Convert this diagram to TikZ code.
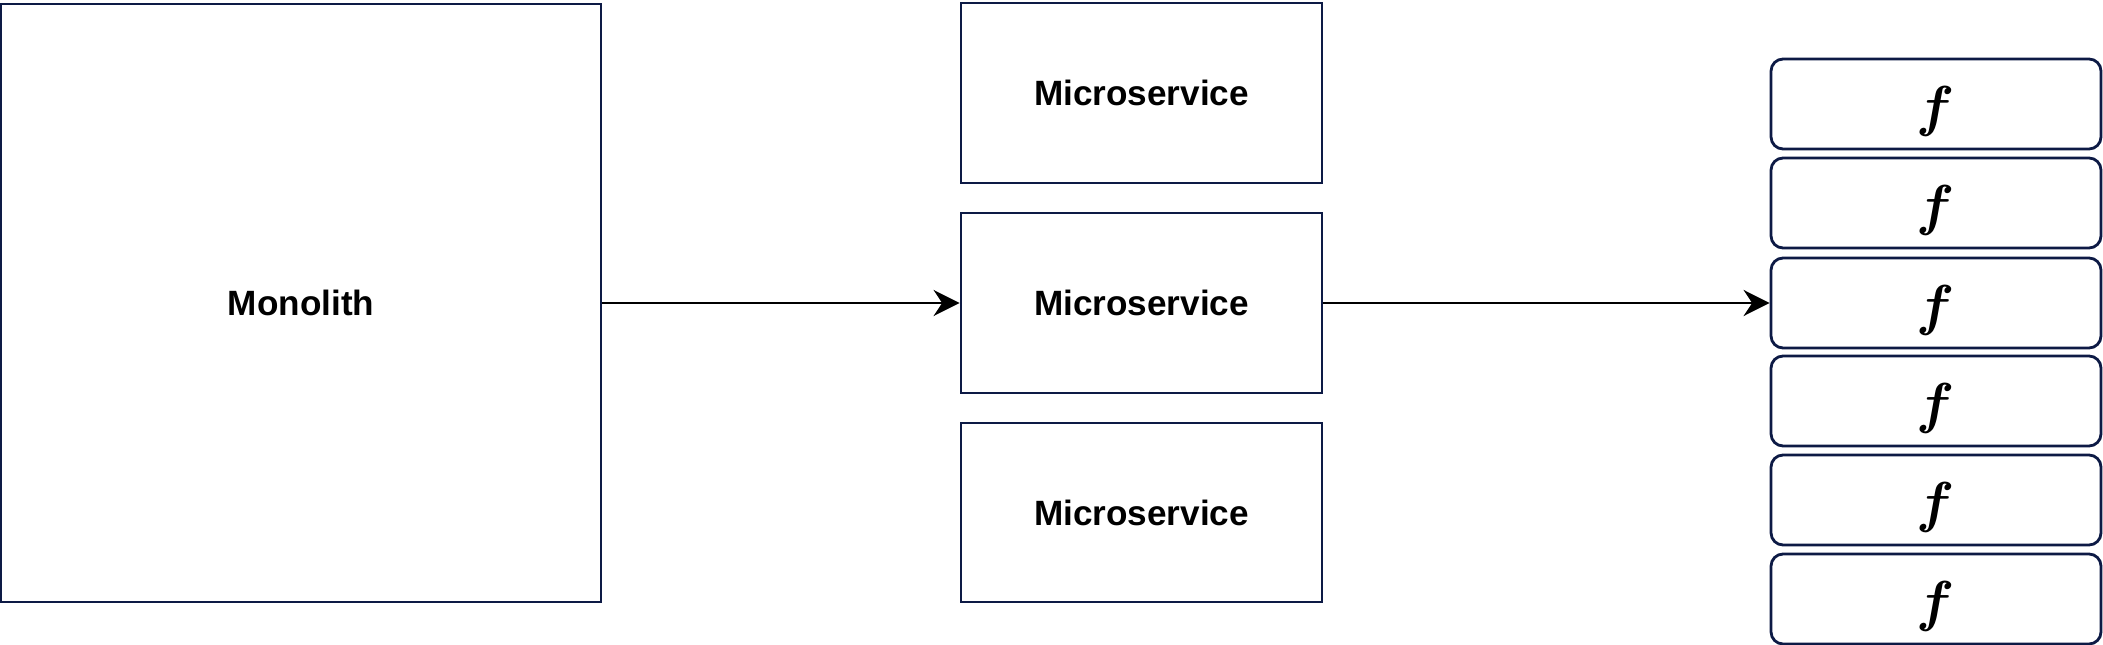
\RequirePackage{fix-cm}
\documentclass[tikz,border=0pt]{standalone}
\usepackage{fontspec}
\setmainfont{Liberation Sans}
\usetikzlibrary{arrows.meta}
\definecolor{edgeblue}{HTML}{0D1A45}

\begin{document}
\begin{tikzpicture}[x=0.02cm, y=-0.02cm,
    block/.style={draw=edgeblue, line width=1.6pt, inner sep=0pt, font=\fontsize{20}{24}\selectfont\bfseries},
    func/.style={draw=edgeblue, line width=1.6pt, rounded corners=0.24cm, minimum width=6.6cm, minimum height=1.8cm, inner sep=0pt, text height=0.88cm, text depth=0pt, font=\fontsize{32}{36}\selectfont\boldmath},
    link/.style={-{Stealth[length=0.52cm, width=0.52cm, inset=0.17cm]}, line width=1.4pt, black}]
    \useasboundingbox (0,0) rectangle (2103,645);

    % Monolith
    \node[block, minimum width=12cm, minimum height=11.96cm] (mono) at (301,303) {Monolith};

    % Microservices
    \node[block, minimum width=7.22cm, minimum height=3.6cm] (ms1) at (1141.5,93) {Microservice};
    \node[block, minimum width=7.22cm, minimum height=3.6cm] (ms2) at (1141.5,303) {Microservice};
    \node[block, minimum width=7.22cm, minimum height=3.58cm] (ms3) at (1141.5,512.5) {Microservice};

    % Functions
    \node[func] (f1) at (1936,104) {$f$};
    \node[func] (f2) at (1936,203) {$f$};
    \node[func] (f3) at (1936,303) {$f$};
    \node[func] (f4) at (1936,401) {$f$};
    \node[func] (f5) at (1936,500) {$f$};
    \node[func] (f6) at (1936,599) {$f$};

    \draw[link] (mono) -- (ms2);
    \draw[link] (ms2) -- (f3);
\end{tikzpicture}
\end{document}
